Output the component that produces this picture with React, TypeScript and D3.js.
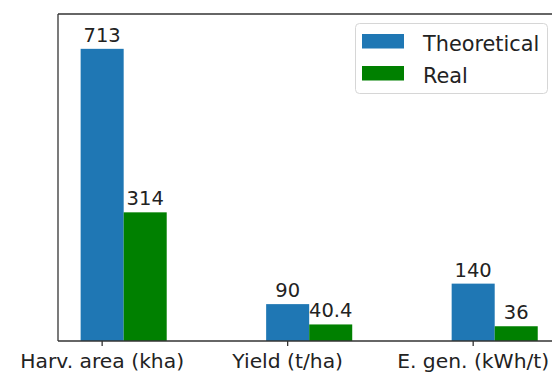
import React from 'react';
import * as d3 from 'd3';

const categories = ['Harv. area (kha)', 'Yield (t/ha)', 'E. gen. (kWh/t)'];
const theoretical = [713, 90, 140];
const real = [314, 40.4, 36];
const theoreticalLabels = ['713', '90', '140'];
const realLabels = ['314', '40.4', '36'];
const seriesNames = ['Theoretical', 'Real'];
const seriesColors = ['#1f77b4', '#008000'];

const W = 552;
const H = 374;
const FONT = 'DejaVu Sans, sans-serif';
const barW = 0.232;

const App: React.FC = () => {
  // category index -> px, ticks sit at the centre of the first bar
  const x = d3.scaleLinear().domain([-0.238, 2.468]).range([58, 560]);
  const y = d3.scaleLinear().domain([0, 798]).range([341, 14]);
  const bw = x(barW) - x(0);

  const series = [theoretical, real];
  const labels = [theoreticalLabels, realLabels];

  return (
    <svg width={W} height={H} style={{ position: 'absolute', left: 0, top: 0, background: '#fff' }}
      fontFamily={FONT}>
      {series.map((vals, s) => (
        <g key={seriesNames[s]}>
          {vals.map((v, i) => {
            const cx = x(i + s * barW);
            return (
              <g key={i}>
                <rect x={cx - bw / 2} y={y(v)} width={bw} height={y(0) - y(v)} fill={seriesColors[s]} />
                <text x={cx} y={y(v) - 7} textAnchor="middle" fontSize={19.5} fill="#222">
                  {labels[s][i]}
                </text>
              </g>
            );
          })}
        </g>
      ))}

      {/* spines */}
      <line x1={58} x2={58} y1={y(798)} y2={y(0)} stroke="#333" strokeWidth={1.3} />
      <line x1={58} x2={W} y1={y(798)} y2={y(798)} stroke="#333" strokeWidth={1.3} />
      <line x1={58} x2={W} y1={y(0)} y2={y(0)} stroke="#333" strokeWidth={1.3} />

      {categories.map((c, i) => (
        <g key={c}>
          <line x1={x(i)} x2={x(i)} y1={y(0)} y2={y(0) + 5} stroke="#333" strokeWidth={1.3} />
          <text x={x(i)} y={368} textAnchor="middle" fontSize={20.3} fill="#222">{c}</text>
        </g>
      ))}

      {/* legend */}
      <rect x={355.5} y={23.5} width={192} height={70} rx={4} fill="#fff" fillOpacity={0.8}
        stroke="#d6d6d6" strokeWidth={1} />
      {seriesNames.map((n, s) => (
        <g key={n}>
          <rect x={362} y={34 + s * 32} width={42} height={14.5} fill={seriesColors[s]} />
          <text x={423} y={51 + s * 32} fontSize={20.8} fill="#222">{n}</text>
        </g>
      ))}
    </svg>
  );
};

export default App;
